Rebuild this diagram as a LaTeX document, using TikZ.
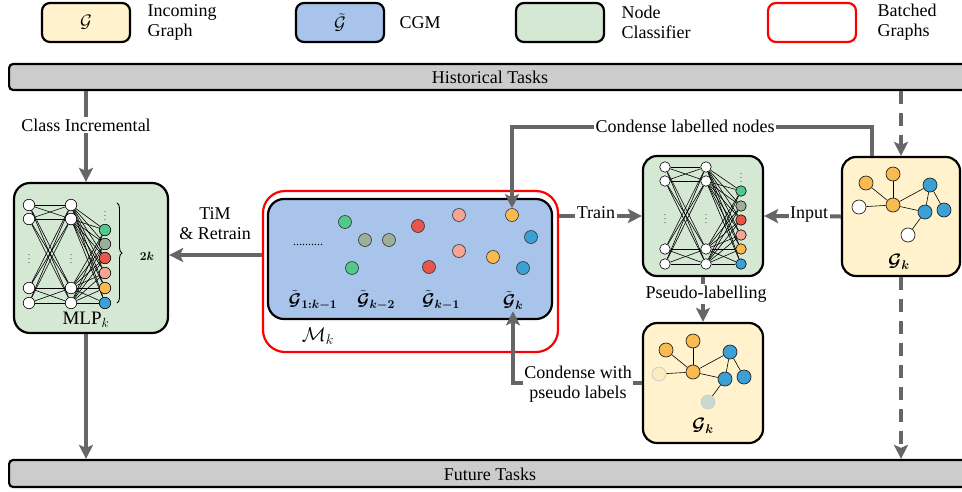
\RequirePackage{fix-cm}
\documentclass[tikz,border=0pt]{standalone}
\usepackage{fontspec}
\setmainfont{Liberation Serif}
\usepackage{bm}
\usetikzlibrary{arrows.meta,decorations.pathreplacing,calc}
\definecolor{cyel}{HTML}{FFF2CC}
\definecolor{cblu}{HTML}{A9C4EB}
\definecolor{cgrn}{HTML}{D5E8D4}
\definecolor{cbar}{HTML}{CCCCCC}
\definecolor{carr}{HTML}{666666}
\definecolor{nG}{HTML}{52C98A}
\definecolor{nS}{HTML}{9CAF98}
\definecolor{nR}{HTML}{E8564A}
\definecolor{nP}{HTML}{F5A593}
\definecolor{nO}{HTML}{F9BB4F}
\definecolor{nB}{HTML}{3AA0D5}
\definecolor{nFY}{HTML}{FBEBBE}
\definecolor{nFG}{HTML}{C8D9CF}
\pgfdeclarelayer{bg}\pgfdeclarelayer{edges}
\pgfsetlayers{bg,edges,main}
\tikzset{
  box/.style={draw=black, line width=2.2pt, rounded corners=#1, inner sep=0pt},
  txt/.style={font=\fontsize{18}{20}\selectfont, inner sep=1.5pt},
  lbl/.style={txt, fill=white},
  arr/.style={draw=carr, line width=4pt, -{Stealth[length=14pt,width=14pt,inset=3pt]}},
  dsh/.style={arr, dash pattern=on 13pt off 9pt},
  nn/.style={circle, draw=black, line width=0.6pt, inner sep=0pt, minimum size=#1},
  gn/.style={circle, draw=black!85, line width=0.7pt, inner sep=0pt, minimum size=14pt},
  cg/.style={circle, draw=black!80, line width=0.6pt, inner sep=0pt, minimum size=13pt, fill=#1},
  ed/.style={line width=0.6pt, black},
  vd/.style={font=\fontsize{8}{8}\selectfont, inner sep=0pt},
  mlab/.style={font=\fontsize{17}{20}\selectfont, inner sep=0pt},
}
\newcommand\drawgk[5]{%
  \begin{scope}[shift={(#2,#3)}]
    \node[gn, fill=nO] (#1A) at (866,183) {};
    \node[gn, fill=nO] (#1B) at (893,174) {};
    \node[gn, #4] (#1C) at (859,207) {};
    \node[gn, fill=nO] (#1D) at (893,205) {};
    \node[gn, fill=nB] (#1E) at (930,185) {};
    \node[gn, fill=nB] (#1F) at (925,212) {};
    \node[gn, fill=nB] (#1G) at (944,210) {};
    \node[gn, #5] (#1H) at (908,235) {};
  \end{scope}
  \begin{pgfonlayer}{edges}
    \foreach \a/\b in {A/D,B/D,C/D,D/E,D/F,E/F,E/G,F/H} \draw[ed] (#1\a) -- (#1\b);
  \end{pgfonlayer}
}
\begin{document}
\begin{tikzpicture}[x=1pt,y=-1pt]
\useasboundingbox (0,0) rectangle (962,491);

% ---------- boxes (background layer) ----------
\begin{pgfonlayer}{bg}
  % legend
  \node[box=8pt, fill=cyel, minimum width=88pt, minimum height=39pt] (lg1) at (86,22.5) {\fontsize{18}{20}\selectfont$\mathcal{G}$};
  \node[box=8pt, fill=cblu, minimum width=88pt, minimum height=39pt] (lg2) at (340,22.5) {\fontsize{18}{20}\selectfont$\tilde{\mathcal{G}}$};
  \node[box=8pt, fill=cgrn, minimum width=88pt, minimum height=39pt] (lg3) at (560,22.5) {};
  \node[box=8pt, draw=red, fill=white, minimum width=88pt, minimum height=39pt] (lg4) at (812,22.5) {};
  % bars
  \node[box=4pt, fill=cbar, minimum width=975pt, minimum height=26pt, anchor=west] (hist) at (8,77) {};
  \node[box=4pt, fill=cbar, minimum width=975pt, minimum height=27pt, anchor=west] (fut) at (8,473.5) {};
  % main boxes
  \node[box=16pt, fill=cgrn, minimum width=154pt, minimum height=150pt] (mlp) at (91,258) {};
  \node[box=22pt, draw=red, fill=white, minimum width=295pt, minimum height=161pt] (red) at (410.5,271.5) {};
  \node[box=16pt, fill=cblu, minimum width=284pt, minimum height=120pt] (cgm) at (410,259) {};
  \node[box=14pt, fill=cgrn, minimum width=120pt, minimum height=120pt] (cls) at (703,216) {};
  \node[box=14pt, fill=cyel, minimum width=118pt, minimum height=119pt] (g1) at (901,216.5) {};
  \node[box=14pt, fill=cyel, minimum width=120pt, minimum height=120pt] (g2) at (703,383) {};
\end{pgfonlayer}

% ---------- legend texts ----------
\node[txt, anchor=west, align=left] at (146,22.5) {Incoming\\Graph};
\node[txt, anchor=west] at (398,23) {CGM};
\node[txt, anchor=west, align=left] at (620,22.5) {Node\\Classifier};
\node[txt, anchor=west, align=left] at (876,22.5) {Batched\\Graphs};
\node[txt] at (490,77) {Historical Tasks};
\node[txt] at (490,474) {Future Tasks};

% ---------- left MLP ----------
\foreach \y [count=\i] in {205,219,288,303} {
  \node[nn=11.5pt, fill=white] (La\i) at (29,\y) {};
  \node[nn=11.5pt, fill=white] (Lb\i) at (71,\y) {};
}
\foreach \y/\c [count=\i] in {230/nG,244/nS,258/nR,273/nP,288/nO,303/nB}
  \node[nn=11.5pt, fill=\c] (Lc\i) at (105,\y) {};
\begin{pgfonlayer}{edges}
  \foreach \i in {1,...,4} {
    \foreach \j in {1,...,4} \draw[ed] (La\i) -- (Lb\j);
    \foreach \j in {1,...,6} \draw[ed] (Lb\i) -- (Lc\j);
  }
\end{pgfonlayer}
\node[vd] (Ld1) at (29,256) {$\vdots$};
\node[vd] (Ld2) at (71,256) {$\vdots$};
\node[vd] (Ld3) at (105,213) {$\vdots$};
\draw[decorate, decoration={brace, amplitude=5pt}, line width=0.9pt] (117,203) -- (117,303);
\node[font=\fontsize{12}{12}\selectfont] (twok) at (147,256) {$\bm{2k}$};
\node[font=\fontsize{19}{20}\selectfont] (mlpl) at (86,320) {$\mathrm{MLP}_k$};

% ---------- right classifier ----------
\foreach \y [count=\i] in {167,181,249,264} {
  \node[nn=10.5pt, fill=white] (Ra\i) at (665,\y) {};
  \node[nn=10.5pt, fill=white] (Rb\i) at (706,\y) {};
}
\foreach \y/\c [count=\i] in {191/nG,206/nS,220/nR,235/nP,249/nO,264/nB}
  \node[nn=10.5pt, fill=\c] (Rc\i) at (741,\y) {};
\begin{pgfonlayer}{edges}
  \foreach \i in {1,...,4} {
    \foreach \j in {1,...,4} \draw[ed] (Ra\i) -- (Rb\j);
    \foreach \j in {1,...,6} \draw[ed] (Rb\i) -- (Rc\j);
  }
\end{pgfonlayer}
\node[vd] (Rd1) at (665,216) {$\vdots$};
\node[vd] (Rd2) at (706,216) {$\vdots$};
\node[vd] (Rd3) at (741,175) {$\vdots$};

% ---------- CGM dots ----------
\foreach \x/\y/\c [count=\i] in {345/222/nG,365/240/nS,389/240/nS,352/268/nG,418/226/nR,429/267/nR,459/215/nP,459/251/nP,512/215/nO,531/237/nB,493/257/nO,523/268/nB}
  \node[cg=\c] (c\i) at (\x,\y) {};
\node[font=\fontsize{12}{12}\selectfont, inner sep=0pt] (dots) at (308,245) {..........};
\node[mlab] (l1) at (313,300) {$\bm{\tilde{\mathcal{G}}_{1:k-1}}$};
\node[mlab] (l2) at (376,300) {$\bm{\tilde{\mathcal{G}}_{k-2}}$};
\node[mlab] (l3) at (441,300) {$\bm{\tilde{\mathcal{G}}_{k-1}}$};
\node[mlab, inner sep=2pt] (l4) at (513,300) {$\bm{\tilde{\mathcal{G}}_{k}}$};
\node[font=\fontsize{20}{22}\selectfont] (mk) at (318,336) {$\mathcal{M}_k$};

% ---------- graphs ----------
\drawgk{T}{0}{0}{fill=white}{fill=white}
\drawgk{B}{-200}{167}{fill=nFY, draw=black!20}{fill=nFG, draw=black!20}
\node[font=\fontsize{18}{20}\selectfont] (gk1) at (899,262) {$\bm{\mathcal{G}_k}$};
\node[font=\fontsize{18}{20}\selectfont] (gk2) at (703,426) {$\bm{\mathcal{G}_k}$};

% ---------- connectors ----------
\coordinate (cx) at (86,0);
\coordinate (ty) at (0,255);
\coordinate (cxa) at (872,0);
\coordinate (cly) at (0,127);
\draw[arr] (hist.south -| cx) -- (mlp.north -| cx);
\draw[arr] (mlp.south -| cx) -- (fut.north -| cx);
\draw[arr] (red.west |- ty) -- (mlp.east |- ty);
\draw[arr] (red.east |- cls.west) -- (cls.west);
\draw[arr] (g1.west) -- (cls.east);
\draw[dsh] (hist.south -| g1.north) -- (g1.north);
\draw[dsh] (g1.south) -- (fut.north -| g1.south);
\draw[arr] (g1.north -| cxa) |- (cly -| c9.north) -- (c9.north);
\draw[arr] (cls.south) -- (g2.north);
\draw[arr] (g2.west) -| (l4.south);

% ---------- connector labels ----------
\node[lbl] at (86,125) {Class Incremental};
\node[txt, align=center] at (215,224) {TiM\\\& Retrain};
\node[lbl] at (596,213) {Train};
\node[lbl] at (809,215) {Input};
\node[lbl] at (685,126) {Condense labelled nodes};
\node[lbl] at (706,294) {Pseudo-labelling};
\node[lbl, align=center] at (578,384) {Condense with\\pseudo labels};
\end{tikzpicture}
\end{document}
